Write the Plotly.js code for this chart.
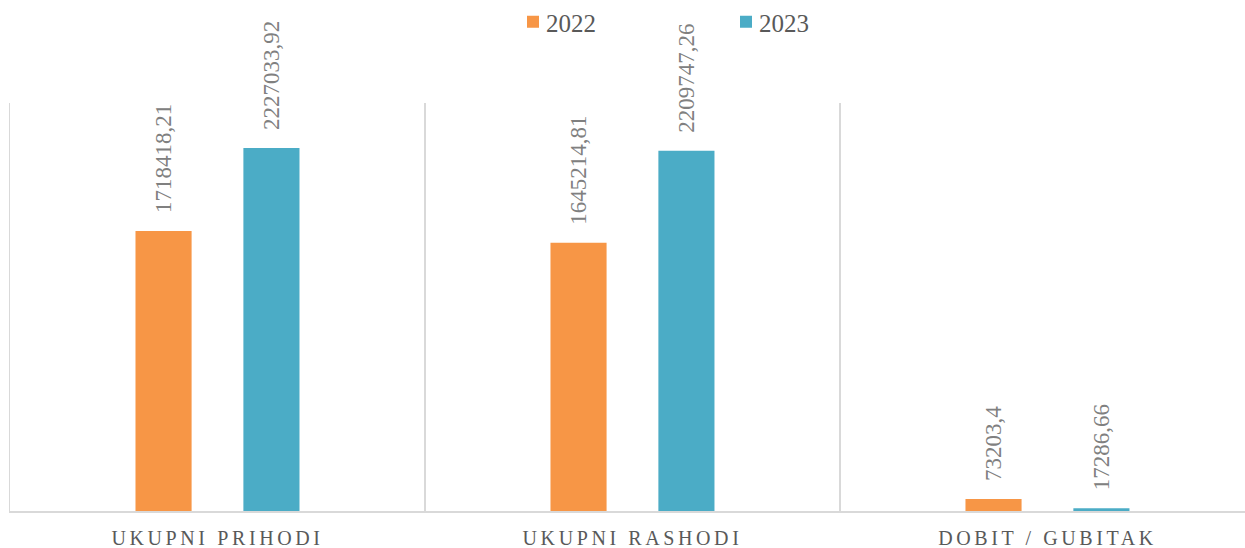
<!DOCTYPE html>
<html>
<head>
<meta charset="utf-8">
<script src="https://cdn.plot.ly/plotly-3.0.1.min.js"></script>
<style>
  html, body { margin: 0; padding: 0; background: #fff; }
  #chart { width: 1245px; height: 548px; }
  .xtick text { letter-spacing: 3.6px; }
</style>
</head>
<body>
<div id="chart"></div>
<script>
const categories = ["UKUPNI PRIHODI", "UKUPNI RASHODI", "DOBIT / GUBITAK"];
const values2022 = [1718418.21, 1645214.81, 73203.4];
const values2023 = [2227033.92, 2209747.26, 17286.66];
const labels2022 = ["1718418,21", "1645214,81", "73203,4"];
const labels2023 = ["2227033,92", "2209747,26", "17286,66"];
const seriesNames = ["2022", "2023"];

const labelFont = { family: "Liberation Serif, serif", size: 23, color: "#808080" };

const traces = [
  {
    type: "bar", name: seriesNames[0], x: categories, y: values2022,
    text: labels2022, textposition: "outside", textangle: -90,
    textfont: labelFont, constraintext: "none", cliponaxis: false,
    marker: { color: "#F79646" }, hoverinfo: "x+y"
  },
  {
    type: "bar", name: seriesNames[1], x: categories, y: values2023,
    text: labels2023, textposition: "outside", textangle: -90,
    textfont: labelFont, constraintext: "none", cliponaxis: false,
    marker: { color: "#4BACC6" }, hoverinfo: "x+y"
  }
];

const layout = {
  width: 1245, height: 548,
  margin: { l: 10, r: 0, t: 103, b: 37 },
  paper_bgcolor: "#fff", plot_bgcolor: "#fff",
  barmode: "group", bargap: 0.48, bargroupgap: 0.48,
  showlegend: true,
  legend: {
    orientation: "h", xref: "container", yref: "container",
    x: 513 / 1245, xanchor: "left", y: 1 - 22 / 548, yanchor: "middle",
    entrywidth: 168, entrywidthmode: "pixels",
    font: { family: "Liberation Serif, serif", size: 25, color: "#595959" },
    bgcolor: "rgba(0,0,0,0)"
  },
  xaxis: {
    type: "category", range: [-0.5, 2.476],
    tickson: "boundaries", showgrid: true, gridcolor: "#d9d9d9", gridwidth: 1.5,
    ticks: "", showline: true, linecolor: "#d9d9d9", linewidth: 1.5,
    ticklabelstandoff: 8,
    tickfont: { family: "Liberation Serif, serif", size: 20, color: "#595959" },
    fixedrange: true
  },
  yaxis: {
    range: [0, 2503000], showgrid: false, zeroline: false,
    showticklabels: false, ticks: "", showline: true,
    linecolor: "#d9d9d9", linewidth: 1.5, fixedrange: true
  }
};

function adjust() {
  document.querySelectorAll("#chart .barlayer .point text").forEach(function (t) {
    const tr = t.getAttribute("transform") || "";
    if (!t.dataset.shifted) {
      t.setAttribute("transform", "translate(0,-15) " + tr);
      t.dataset.shifted = "1";
    }
  });
  document.querySelectorAll("#chart .legendtext").forEach(function (t) {
    t.setAttribute("x", "33");
  });
}

Plotly.newPlot("chart", traces, layout, { displayModeBar: false, staticPlot: true }).then(adjust);
</script>
</body>
</html>
